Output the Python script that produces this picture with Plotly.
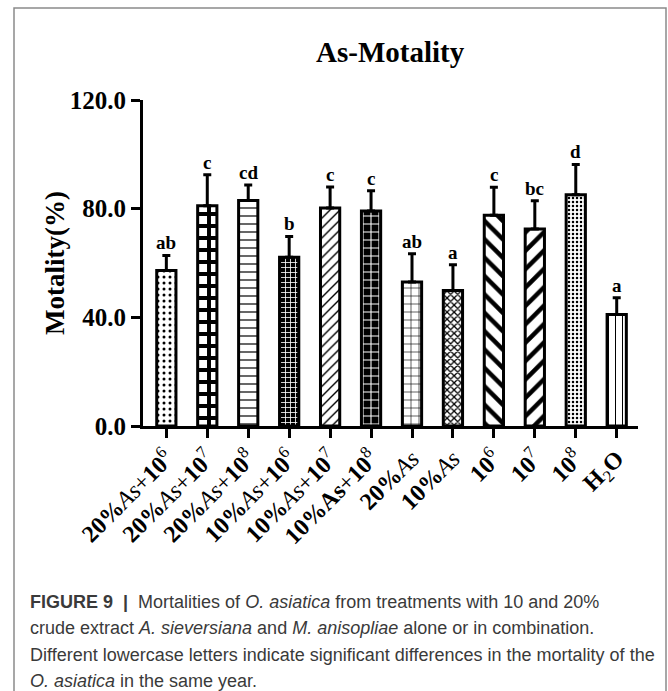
import plotly.graph_objects as go

N = '<span style="font-weight:normal">'
categories = [
    f"20%{N}<i>As</i>+</span>10{N}<sup>6</sup></span>",
    f"20%{N}<i>As</i>+</span>10{N}<sup>7</sup></span>",
    f"20%{N}<i>As</i>+</span>10{N}<sup>8</sup></span>",
    f"10%{N}<i>As</i>+</span>10{N}<sup>6</sup></span>",
    f"10%{N}<i>As</i>+</span>10{N}<sup>7</sup></span>",
    f"10%As{N}+</span>10{N}<sup>8</sup></span>",
    f"20%{N}<i>As</i></span>",
    f"10%{N}<i>As</i></span>",
    f"10{N}<sup>6</sup></span>",
    f"10{N}<sup>7</sup></span>",
    f"10{N}<sup>8</sup></span>",
    f"H{N}<sub>2</sub></span>O",
]
mortality = [57.2, 81.1, 83.0, 62.1, 80.2, 79.1, 53.0, 49.9, 77.6, 72.5, 85.1, 41.0]
error_up = [5.6, 11.4, 5.7, 7.7, 7.8, 7.5, 10.4, 9.5, 10.3, 10.4, 11.2, 6.2]
letters = ["ab", "c", "cd", "b", "c", "c", "ab", "a", "c", "bc", "d", "a"]
y_ticks = [0, 40, 80, 120]

shapes = [".", "+", "-", "+", "/", "+", "+", "x", "\\", "/", ".", "|"]
fgcol = ["black", "black", "black", "white", "black", "white", "black", "black", "black", "black", "black", "black"]
bgcol = ["white", "white", "white", "black", "white", "black", "white", "white", "white", "white", "white", "white"]
psize = [6, 12, 8, 5, 7, 8, 8, 5, 13, 13, 4, 7]
psol = [0.2, 0.55, 0.15, 0.3, 0.2, 0.25, 0.15, 0.45, 0.35, 0.35, 0.3, 0.15]

L, R, T, B = 143, 638, 100, 426
W, H = R - L, B - T
def px(x):
    return (x - L) / W
def py(y):
    return (B - y) / H

serif = "Liberation Serif"
fig = go.Figure()
fig.add_trace(go.Bar(
    x=categories, y=mortality, width=0.47,
    marker=dict(color="white", line=dict(color="black", width=3),
                pattern=dict(shape=shapes, fgcolor=fgcol, bgcolor=bgcol,
                             size=psize, solidity=psol, fillmode="replace")),
    error_y=dict(type="data", symmetric=False, array=error_up,
                 arrayminus=[0] * len(error_up), color="black", thickness=3, width=4),
    showlegend=False,
))

annotations = []
for c, v, e, t in zip(categories, mortality, error_up, letters):
    annotations.append(dict(x=c, y=v + e, xref="x", yref="y", text=t, showarrow=False,
                            yanchor="bottom", yshift=0,
                            font=dict(family=serif, size=19, color="black", weight="bold")))

annotations.append(dict(x=px(390), y=py(52), xref="paper", yref="paper", text="As-Motality",
                        showarrow=False, xanchor="center", yanchor="middle",
                        font=dict(family=serif, size=29, color="black", weight="bold")))
annotations.append(dict(x=px(55), y=py(263), xref="paper", yref="paper", text="Motality(%)",
                        showarrow=False, xanchor="center", yanchor="middle", textangle=-90,
                        font=dict(family=serif, size=27, color="black", weight="bold")))

caption = [
    "<b>FIGURE 9</b>  <b>|</b>  Mortalities of <i>O. asiatica</i> from treatments with 10 and 20%",
    "crude extract <i>A. sieversiana</i> and <i>M. anisopliae</i> alone or in combination.",
    "Different lowercase letters indicate significant differences in the mortality of the",
    "<i>O. asiatica</i> in the same year.",
]
for i, line in enumerate(caption):
    annotations.append(dict(x=px(28), y=py(602 + 26.3 * i), xref="paper", yref="paper", text=line,
                            showarrow=False, xanchor="left", yanchor="middle",
                            font=dict(family="Liberation Sans", size=18, color="#3a3a3a")))

border = dict(type="path", xref="paper", yref="paper",
              path=f"M {px(14)} {py(760)} L {px(14)} {py(8)} L {px(666)} {py(8)} L {px(666)} {py(760)}",
              line=dict(color="#8a8a8a", width=1.5))

fig.update_layout(
    width=668, height=691,
    margin=dict(l=L, r=668 - R, t=T, b=691 - B),
    paper_bgcolor="white", plot_bgcolor="white",
    bargap=0.5,
    annotations=annotations,
    shapes=[border],
    xaxis=dict(range=[-0.57, 11.52], showline=True, linecolor="black", linewidth=3,
               ticks="outside", ticklen=9, tickwidth=3, tickcolor="black",
               tickangle=-45, showgrid=False, zeroline=False, ticklabelstandoff=-3,
               tickfont=dict(family=serif, size=24, color="black", weight="bold")),
    yaxis=dict(range=[0, 120], tickvals=y_ticks, tickformat=".1f", showline=True,
               linecolor="black", linewidth=3, ticks="outside", ticklen=9, tickwidth=3,
               tickcolor="black", showgrid=False, zeroline=False,
               tickfont=dict(family=serif, size=25, color="black", weight="bold")),
)

fig.write_html("out.html")
